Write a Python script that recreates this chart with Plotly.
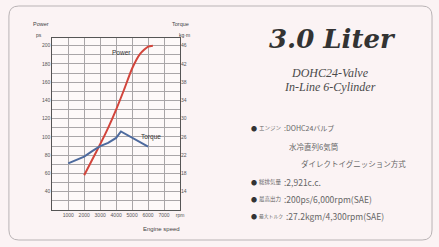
import plotly.graph_objects as go

W, H = 439, 247

# ---- data ----
power_rpm = [2000, 2500, 3000, 3500, 4000, 4500, 5000, 5500, 6000, 6300]
power_ps = [58, 75, 92, 110, 130, 152, 175, 191, 199, 200]
torque_rpm = [1000, 1500, 2000, 2500, 3000, 3500, 4000, 4300, 5000, 5500, 6000]
torque_kgm = [20.2, 20.9, 21.7, 22.9, 24.0, 24.7, 25.8, 27.2, 25.8, 24.8, 23.9]
rpm_ticks = [1000, 2000, 3000, 4000, 5000, 6000, 7000, 8000]
rpm_labels = ["1000", "2000", "3000", "4000", "5000", "6000", "7000", "rpm"]
ps_ticks = [40, 60, 80, 100, 120, 140, 160, 180, 200]
kgm_ticks = [14, 18, 22, 26, 30, 34, 38, 42, 46]

spec_labels = ["エンジン", "", "", "総排気量", "最高出力", "最大トルク"]
spec_values = [":DOHC24バルブ", "水冷直列6気筒", "ダイレクトイグニッション方式",
               ":2,921c.c.", ":200ps/6,000rpm(SAE)", ":27.2kgm/4,300rpm(SAE)"]

def px(x):
    return x / W

def py(y):
    return 1 - y / H

fig = go.Figure()
fig.add_trace(go.Scatter(x=power_rpm, y=power_ps, mode="lines",
                         line=dict(color="#d2453c", width=2, shape="spline", smoothing=0.6),
                         showlegend=False, hoverinfo="skip"))
fig.add_trace(go.Scatter(x=torque_rpm, y=torque_kgm, mode="lines", yaxis="y2",
                         line=dict(color="#4d6a9e", width=2),
                         showlegend=False, hoverinfo="skip"))

tickfont = dict(family="Liberation Sans", size=5, color="#555")
ps_lo, ps_hi = 20, 208
kg_lo, kg_hi = 14 + (ps_lo - 40) / 5, 14 + (ps_hi - 40) / 5

fig.update_layout(
    width=W, height=H, margin=dict(l=0, r=0, t=0, b=0),
    paper_bgcolor="#fbf3f4", plot_bgcolor="#fdf9f9",
    xaxis=dict(domain=[px(52.7), px(181.7)], range=[0, 8000],
               tickvals=rpm_ticks, ticktext=rpm_labels, tickfont=tickfont,
               showgrid=True, gridcolor="#a9a6a8", gridwidth=1,
               showline=True, linecolor="#555", linewidth=1, mirror=True,
               ticks="", zeroline=False, fixedrange=True),
    yaxis=dict(domain=[py(210), py(38.4)], range=[ps_lo, ps_hi],
               tickvals=ps_ticks, tickfont=tickfont,
               showgrid=True, gridcolor="#a9a6a8", gridwidth=1,
               minor=dict(dtick=10, tick0=0, showgrid=True, gridcolor="#a9a6a8", gridwidth=1),
               showline=True, linecolor="#555", linewidth=1, mirror=True,
               ticks="", zeroline=False),
    yaxis2=dict(overlaying="y", side="right", range=[kg_lo, kg_hi],
                tickvals=kgm_ticks, tickfont=tickfont, showgrid=False,
                ticks="", zeroline=False, showline=False),
)

# card border
r = 10
x0, x1, y0, y1 = 9, 436, 6, 240
path = (f"M {px(x0+r)} {py(y0)} L {px(x1-r)} {py(y0)} Q {px(x1)} {py(y0)} {px(x1)} {py(y0+r)} "
        f"L {px(x1)} {py(y1-r)} Q {px(x1)} {py(y1)} {px(x1-r)} {py(y1)} "
        f"L {px(x0+r)} {py(y1)} Q {px(x0)} {py(y1)} {px(x0)} {py(y1-r)} "
        f"L {px(x0)} {py(y0+r)} Q {px(x0)} {py(y0)} {px(x0+r)} {py(y0)} Z")
fig.add_shape(type="path", path=path, xref="paper", yref="paper",
              line=dict(color="#b9b3b5", width=1), fillcolor="rgba(0,0,0,0)", layer="above")

anns = []
def ann(text, x, y, size, color="#444", family="Liberation Sans", xanchor="center", **kw):
    anns.append(dict(text=text, x=px(x), y=py(y), xref="paper", yref="paper",
                     xanchor=xanchor, yanchor="middle", showarrow=False,
                     font=dict(family=family, size=size, color=color), **kw))

ann("Power", 31, 24, 5.5, xanchor="left")
ann("ps", 34, 35, 5, xanchor="left")
ann("Torque", 193, 24, 5.5, xanchor="right")
ann("kg·m", 194, 35, 5, xanchor="right")
ann("Engine speed", 184, 229, 6, xanchor="right")

anns.append(dict(text="Power", x=4366, y=192, xref="x", yref="y", showarrow=False,
                 font=dict(family="Liberation Sans", size=6.5, color="#333")))
anns.append(dict(text="Torque", x=6200, y=100, xref="x", yref="y", showarrow=False,
                 font=dict(family="Liberation Sans", size=6.5, color="#333")))

ann("<b><i>3.0 Liter</i></b>", 336, 39, 26, color="#333", family="DejaVu Serif")
ann("<i>DOHC24-Valve</i>", 333, 73, 12, color="#4a4a4a", family="Liberation Serif")
ann("<i>In-Line 6-Cylinder</i>", 333, 87, 12, color="#4a4a4a", family="Liberation Serif")

rows_y = [128, 146, 163, 182, 199, 216]
vals_x = [285, 290, 302, 285, 285, 287]
vals_size = [7, 7.5, 7.5, 8.5, 8.5, 8.5]
labs_size = [5.5, 5.5, 5.5, 5.5, 5.5, 4.8]
for lab, val, yy, vx, vs, ls in zip(spec_labels, spec_values, rows_y, vals_x, vals_size, labs_size):
    if lab:
        ann("●", 251, yy, 6, color="#333", family="Noto Sans CJK JP", xanchor="left")
        ann(lab, 259, yy, ls, color="#666", family="Noto Sans CJK JP", xanchor="left")
    ann(val, vx, yy, vs, color="#666", family="Noto Sans CJK JP", xanchor="left")

fig.update_layout(annotations=anns)
fig.write_html("out.html", config={"displayModeBar": False},
               post_script="document.body.style.margin='0';document.body.style.padding='0';document.body.style.overflow='hidden';")
